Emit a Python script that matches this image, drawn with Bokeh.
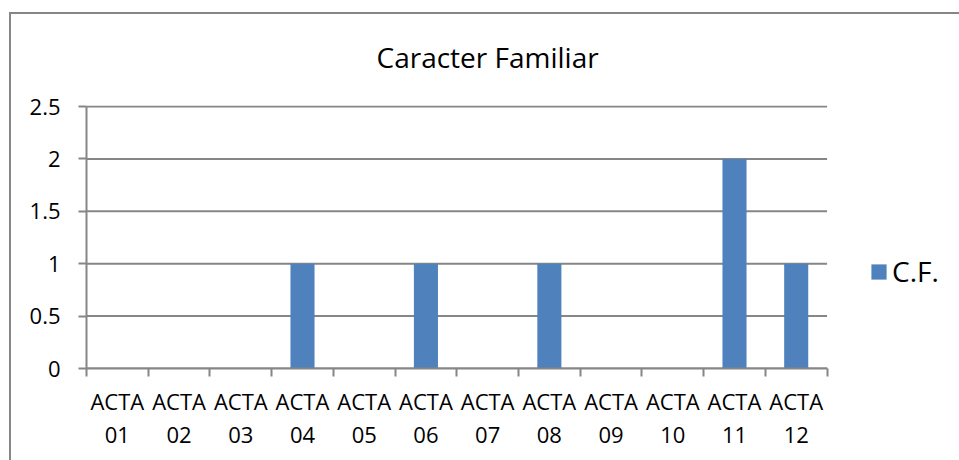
from bokeh.plotting import figure
from bokeh.models import FixedTicker, Legend, LegendItem, Range1d, ColumnDataSource
from bokeh.embed import file_html
from bokeh.resources import INLINE

categories = ["ACTA 01", "ACTA 02", "ACTA 03", "ACTA 04", "ACTA 05", "ACTA 06",
              "ACTA 07", "ACTA 08", "ACTA 09", "ACTA 10", "ACTA 11", "ACTA 12"]
values = [0, 0, 0, 1, 0, 1, 0, 1, 0, 0, 2, 1]
y_ticks = [0, 0.5, 1, 1.5, 2, 2.5]
series_name = "C.F."
title_text = "Caracter Familiar"

FONT = "Open Sans"
GRAY = "#868686"
BLUE = "#4F81BD"

n = len(categories)
ymax = max(y_ticks)
xs = [i + 0.5 for i in range(n)]
bounds = list(range(n + 1))
src = ColumnDataSource(dict(x=xs, top=values, name=categories))
grid_src = ColumnDataSource(dict(y=y_ticks, x0=[0] * len(y_ticks), x1=[n] * len(y_ticks)))

# frame extends past the category area so the legend (drawn inside) is not clipped
p = figure(width=959, height=460, output_backend="svg", toolbar_location=None,
           x_range=Range1d(0, n + 2), y_range=Range1d(0, ymax * 1.004),
           min_border_left=86, min_border_right=9, min_border_top=105,
           min_border_bottom=92)
# chart-area border (top and left edges, as in the cropped original) via host background
p.styles = {
    "background-image": "linear-gradient(#868686, #868686), linear-gradient(#868686, #868686)",
    "background-size": "100% 2px, 2px 100%",
    "background-position": "10px 12px, 9px 12px",
    "background-repeat": "no-repeat",
    "background-color": "white",
}
p.outline_line_color = None
p.background_fill_alpha = 0
p.border_fill_alpha = 0

p.segment(x0="x0", y0="y", x1="x1", y1="y", source=grid_src, line_color=GRAY, line_width=2)
r = p.vbar(x="x", top="top", width=0.39, source=src, fill_color=BLUE, line_color=None)

p.title.text = title_text
p.title.align = "left"
p.title.offset = 290
p.title.standoff = 60
p.title.text_font = FONT
p.title.text_font_size = "28px"
p.title.text_font_style = "normal"
p.title.text_color = "black"

# x axis
xa = p.xaxis[0]
xa.bounds = (0, n)
xa.ticker = FixedTicker(ticks=xs, minor_ticks=bounds)
xa.major_label_overrides = {x: c.replace(" ", "\n") for x, c in zip(xs, categories)}
xa.major_tick_out = 0
xa.major_tick_in = 0
xa.minor_tick_out = 8
xa.minor_tick_in = 0
xa.minor_tick_line_color = GRAY
xa.minor_tick_line_width = 2
xa.axis_line_color = GRAY
xa.axis_line_width = 2
xa.major_label_text_font = FONT
xa.major_label_text_font_size = "22px"
xa.major_label_text_line_height = 1.1
xa.major_label_text_color = "black"
xa.major_label_standoff = 9

# y axis
ya = p.yaxis[0]
ya.bounds = (0, ymax)
ya.ticker = FixedTicker(ticks=y_ticks, minor_ticks=[])
ya.major_tick_out = 8
ya.major_tick_in = 0
ya.major_tick_line_color = GRAY
ya.major_tick_line_width = 2
ya.axis_line_color = GRAY
ya.axis_line_width = 2
ya.major_label_text_font = FONT
ya.major_label_text_font_size = "22px"
ya.major_label_text_color = "black"
ya.major_label_standoff = 18

p.xgrid.grid_line_color = None
p.ygrid.grid_line_color = None

legend = Legend(items=[LegendItem(label=series_name, renderers=[r])],
                location=(783, 78), orientation="vertical",
                label_text_font=FONT, label_text_font_size="28px",
                label_text_color="black", glyph_width=19, glyph_height=19,
                label_standoff=4, padding=0, margin=0, spacing=0,
                border_line_color=None, background_fill_alpha=0)
p.add_layout(legend, "center")

open("out.html", "w").write(file_html(p, INLINE))
